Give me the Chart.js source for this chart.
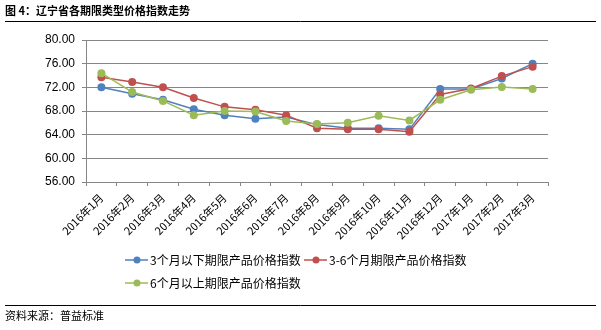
<!DOCTYPE html>
<html>
<head>
<meta charset="utf-8">
<script src="https://cdn.jsdelivr.net/npm/chart.js@4"></script>
<style>
    html, body { margin: 0; padding: 0; background: #fff; }
    #wrap { width: 601px; height: 330px; position: relative; }
</style>
</head>
<body>
<div id="wrap"><canvas id="chart" width="601" height="330"></canvas></div>
<script>
// 辽宁省各期限类型价格指数走势
const categories = ['2016年1月', '2016年2月', '2016年3月', '2016年4月', '2016年5月', '2016年6月', '2016年7月',
    '2016年8月', '2016年9月', '2016年10月', '2016年11月', '2016年12月', '2017年1月', '2017年2月', '2017年3月'];
const seriesNames = ['3个月以下期限产品价格指数', '3-6个月期限产品价格指数', '6个月以上期限产品价格指数'];
const under3m = [72.0, 70.9, 69.9, 68.3, 67.3, 66.7, 67.0, 65.7, 65.1, 65.1, 64.9, 71.7, 71.7, 73.5, 76.0];
const from3to6m = [73.7, 72.9, 72.0, 70.2, 68.7, 68.2, 67.3, 65.1, 64.9, 64.9, 64.5, 70.8, 71.8, 73.9, 75.5];
const over6m = [74.4, 71.2, 69.7, 67.3, 68.0, 67.9, 66.3, 65.8, 66.0, 67.2, 66.4, 69.9, 71.6, 72.05, 71.7];
const yTicks = [56, 60, 64, 68, 72, 76, 80];

const colors = ['#4F81BD', '#C0504D', '#9BBB59'];
const CJK = '"Noto Sans CJK SC", "Microsoft YaHei", sans-serif';

// title, rules, source note and legend drawn straight onto the canvas
const decorations = {
    id: 'decorations',
    afterDraw(chart) {
        const ctx = chart.ctx;
        ctx.save();
        ctx.fillStyle = '#000';
        ctx.textBaseline = 'middle';
        ctx.textAlign = 'left';

        ctx.font = 'bold 11px ' + CJK;
        ctx.fillText('图 4：辽宁省各期限类型价格指数走势', 5, 11);
        ctx.font = '11px ' + CJK;
        ctx.fillText('资料来源：普益标准', 5, 316);

        ctx.strokeStyle = '#000';
        ctx.lineWidth = 1;
        [21.5, 305.5].forEach(y => {
            ctx.beginPath();
            ctx.moveTo(5, y);
            ctx.lineTo(596, y);
            ctx.stroke();
        });

        // legend
        const items = [[125, 260], [304, 260], [125, 283]];
        ctx.font = '12px ' + CJK;
        items.forEach(([x, y], i) => {
            ctx.strokeStyle = colors[i];
            ctx.lineWidth = 1.5;
            ctx.beginPath();
            ctx.moveTo(x, y);
            ctx.lineTo(x + 23, y);
            ctx.stroke();
            ctx.fillStyle = colors[i];
            ctx.beginPath();
            ctx.arc(x + 12, y, 3.5, 0, Math.PI * 2);
            ctx.fill();
            ctx.fillStyle = '#000';
            ctx.fillText(seriesNames[i], x + 25, y);
        });
        ctx.restore();
    }
};

function makeDataset(label, data, color, order) {
    return {
        label: label,
        data: data,
        borderColor: color,
        backgroundColor: color,
        borderWidth: 1.5,
        pointRadius: 4,
        pointBorderWidth: 0,
        pointBackgroundColor: color,
        tension: 0,
        order: order
    };
}

new Chart(document.getElementById('chart').getContext('2d'), {
    type: 'line',
    data: {
        labels: categories,
        datasets: [
            makeDataset(seriesNames[0], under3m, colors[0], 2),
            makeDataset(seriesNames[1], from3to6m, colors[1], 1),
            makeDataset(seriesNames[2], over6m, colors[2], 0)
        ]
    },
    options: {
        responsive: false,
        animation: false,
        devicePixelRatio: 1,
        layout: { padding: { left: 0, top: 40, right: 53, bottom: 0 } },
        plugins: {
            legend: { display: false },
            tooltip: { enabled: false }
        },
        scales: {
            x: {
                offset: true,
                afterFit(scale) { scale.height = 148; },
                grid: {
                    offset: true,
                    drawOnChartArea: false,
                    drawTicks: true,
                    tickLength: 4,
                    color: '#868686'
                },
                border: { color: '#868686', width: 1 },
                ticks: {
                    color: '#000',
                    font: { family: CJK, size: 11 },
                    minRotation: 45,
                    maxRotation: 45,
                    autoSkip: false,
                    padding: 5
                }
            },
            y: {
                min: 56,
                max: 80,
                afterFit(scale) { scale.width = 86; },
                afterBuildTicks(scale) { scale.ticks = yTicks.map(v => ({ value: v })); },
                grid: {
                    color: '#868686',
                    lineWidth: 1,
                    drawTicks: true,
                    tickLength: 4
                },
                border: { color: '#868686', width: 1 },
                ticks: {
                    color: '#000',
                    font: { family: '"Liberation Sans", Arial, sans-serif', size: 12 },
                    padding: 7,
                    callback: v => Number(v).toFixed(2)
                }
            }
        }
    },
    plugins: [decorations]
});
</script>
</body>
</html>
